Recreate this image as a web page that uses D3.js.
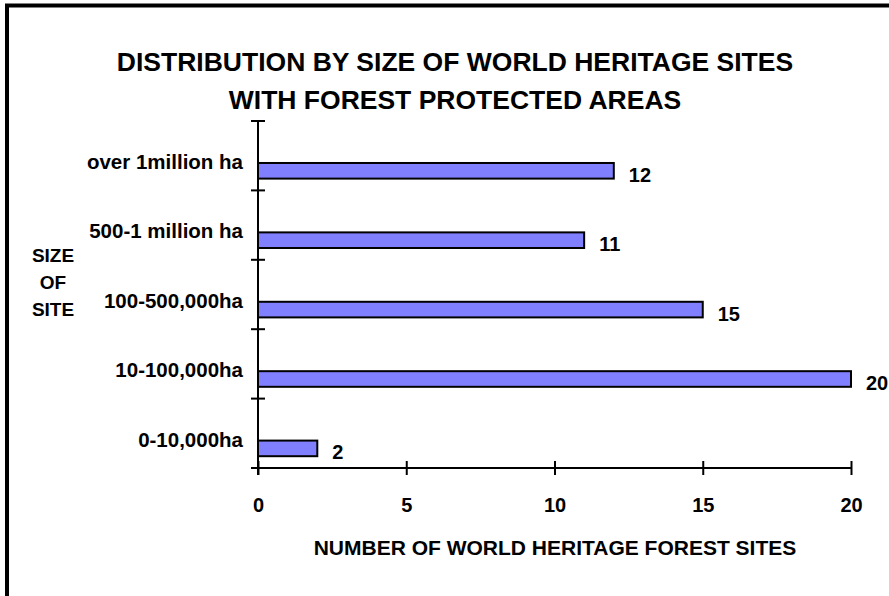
<!DOCTYPE html>
<html><head><meta charset="utf-8">
<script src="https://cdn.jsdelivr.net/npm/d3@7"></script>
<style>html,body{margin:0;padding:0;background:#fff;}svg{display:block;}</style>
</head><body>
<script>
const categories = ["over 1million ha","500-1 million ha","100-500,000ha","10-100,000ha","0-10,000ha"];
const values = [12, 11, 15, 20, 2];
const xTicks = [0, 5, 10, 15, 20];
const titleLines = ["DISTRIBUTION BY SIZE OF WORLD HERITAGE SITES","WITH FOREST PROTECTED AREAS"];
const yTitleLines = ["SIZE","OF","SITE"];
const xTitle = "NUMBER OF WORLD HERITAGE FOREST SITES";

const W = 889, H = 596;
const svg = d3.select("body").append("svg").attr("width", W).attr("height", H);
const font = "'Liberation Sans', Arial, sans-serif";

// frame
svg.append("rect").attr("x", 7).attr("y", 5.5).attr("width", W + 10).attr("height", H + 10)
  .attr("fill", "none").attr("stroke", "#000").attr("stroke-width", 4);

const x = d3.scaleLinear().domain([0, 20]).range([258, 851]);
const y = d3.scaleBand().domain(categories).range([121, 468]).paddingInner(0).paddingOuter(0);
const bw = y.bandwidth();

// title
svg.append("g").selectAll("text").data(titleLines).join("text")
  .attr("x", 455).attr("y", (d, i) => 71 + i * 38)
  .attr("text-anchor", "middle").attr("font-family", font).attr("font-weight", "bold")
  .attr("font-size", 26.5).text(d => d);

// bars
svg.append("g").selectAll("rect").data(values).join("rect")
  .attr("x", x(0)).attr("y", (d, i) => y(categories[i]) + bw * 0.605)
  .attr("width", d => x(d) - x(0)).attr("height", bw * 0.225)
  .attr("fill", "#8080ff").attr("stroke", "#000").attr("stroke-width", 2);

// value labels
svg.append("g").selectAll("text").data(values).join("text")
  .attr("x", d => x(d) + 15).attr("y", (d, i) => y(categories[i]) + bw * 0.605 + bw * 0.225 / 2 + 11)
  .attr("font-family", font).attr("font-weight", "bold").attr("font-size", 20).text(d => d);

// y axis
const yAxisG = svg.append("g");
yAxisG.append("line").attr("x1", x(0)).attr("x2", x(0)).attr("y1", 121).attr("y2", 475)
  .attr("stroke", "#000").attr("stroke-width", 2);
const yTickPos = categories.map(c => y(c)).concat([y.range()[1]]);
yAxisG.selectAll("line.t").data(yTickPos).join("line").attr("class", "t")
  .attr("x1", x(0) - 7).attr("x2", x(0) + 7).attr("y1", d => d).attr("y2", d => d)
  .attr("stroke", "#000").attr("stroke-width", 2);
yAxisG.selectAll("text").data(categories).join("text")
  .attr("x", 243).attr("y", c => y(c) + 48)
  .attr("text-anchor", "end").attr("font-family", font).attr("font-weight", "bold")
  .attr("font-size", 20.5).text(d => d);

// x axis
const xAxis = d3.axisBottom(x).tickValues(xTicks).tickSize(0).tickPadding(0);
const xg = svg.append("g").attr("transform", `translate(0,${y.range()[1]})`).call(xAxis);
xg.select(".domain").remove();
xg.append("line").attr("x1", x(0) - 7).attr("x2", x(20)).attr("y1", 0).attr("y2", 0)
  .attr("stroke", "#000").attr("stroke-width", 2);
xg.selectAll(".tick line").remove();
xg.selectAll(".tick").append("line").attr("y1", -7).attr("y2", 7).attr("stroke", "#000").attr("stroke-width", 2);
xg.selectAll(".tick text").attr("y", 44).attr("dy", 0).attr("fill", "#000")
  .attr("font-family", font).attr("font-weight", "bold").attr("font-size", 20);

// axis titles
svg.append("text").attr("x", 555).attr("y", 555).attr("text-anchor", "middle")
  .attr("font-family", font).attr("font-weight", "bold").attr("font-size", 21).text(xTitle);
svg.append("g").selectAll("text").data(yTitleLines).join("text")
  .attr("x", 53).attr("y", (d, i) => 262 + i * 27).attr("text-anchor", "middle")
  .attr("font-family", font).attr("font-weight", "bold").attr("font-size", 19).text(d => d);
</script>
</body></html>
